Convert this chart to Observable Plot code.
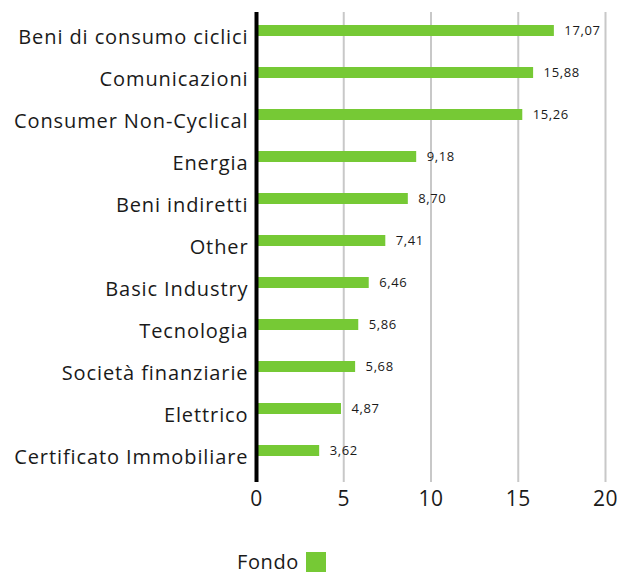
<!DOCTYPE html>
<html>
<head>
<meta charset="utf-8">
<script src="https://cdn.jsdelivr.net/npm/d3@7"></script>
<script src="https://cdn.jsdelivr.net/npm/@observablehq/plot@0.6"></script>
<style>
  body { margin: 0; background: #fff; font-family: "Open Sans", sans-serif; }
  #wrap { position: relative; width: 617px; height: 574px; overflow: hidden; }
  #legend { position: absolute; left: 237px; top: 552px; display: flex; align-items: flex-start; gap: 7px; font-size: 20px; line-height: 20px; letter-spacing: 0.6px; color: #1a1a1a; }
  #legend .sw { width: 20px; height: 20px; background: #76c935; }
  g[aria-label="y-axis tick label"] text { letter-spacing: 0.9px; }
  g[aria-label="x-axis tick label"] text { letter-spacing: 0.5px; }
  g[aria-label="text"] text { letter-spacing: 0.6px; }
</style>
</head>
<body>
<div id="wrap">
  <div id="chart"></div>
  <div id="legend"><span>Fondo</span><span class="sw"></span></div>
</div>
<script>
const categories = [
  "Beni di consumo ciclici",
  "Comunicazioni",
  "Consumer Non-Cyclical",
  "Energia",
  "Beni indiretti",
  "Other",
  "Basic Industry",
  "Tecnologia",
  "Società finanziarie",
  "Elettrico",
  "Certificato Immobiliare"
];
const values = [17.07, 15.88, 15.26, 9.18, 8.70, 7.41, 6.46, 5.86, 5.68, 4.87, 3.62];
const xTicks = [0, 5, 10, 15, 20];
const seriesName = "Fondo";

const data = categories.map((c, i) => ({cat: c, val: values[i]}));
const fmt = v => d3.format(".2f")(v).replace(".", ",");

const chart = Plot.plot({
  width: 617,
  height: 540,
  marginLeft: 256,
  marginRight: 12,
  marginTop: 12,
  marginBottom: 58,
  style: {fontFamily: "'Open Sans', sans-serif", color: "#1a1a1a", background: "#fff"},
  x: {domain: [0, 20], ticks: xTicks, label: null},
  y: {domain: categories, paddingInner: 0.74, paddingOuter: 0.394, align: 0.343, label: null},
  marks: [
    Plot.ruleX(xTicks.filter(t => t > 0), {stroke: "#c8c8c8", strokeWidth: 2}),
    Plot.barX(data, {x: "val", y: "cat", fill: "#76c935"}),
    Plot.ruleX([0], {stroke: "#000", strokeWidth: 4}),
    Plot.text(data, {x: "val", y: "cat", text: d => fmt(d.val), dx: 10, dy: 0, textAnchor: "start", fontSize: 13, fill: "#1a1a1a"}),
    Plot.axisX({ticks: xTicks, tickSize: 0, tickPadding: 9, fontSize: 21, label: null}),
    Plot.axisY({tickSize: 0, tickPadding: 8, fontSize: 20, dy: 6.5, label: null})
  ]
});
document.getElementById("chart").appendChild(chart);
document.getElementById("legend").firstChild.textContent = seriesName;
</script>
</body>
</html>
